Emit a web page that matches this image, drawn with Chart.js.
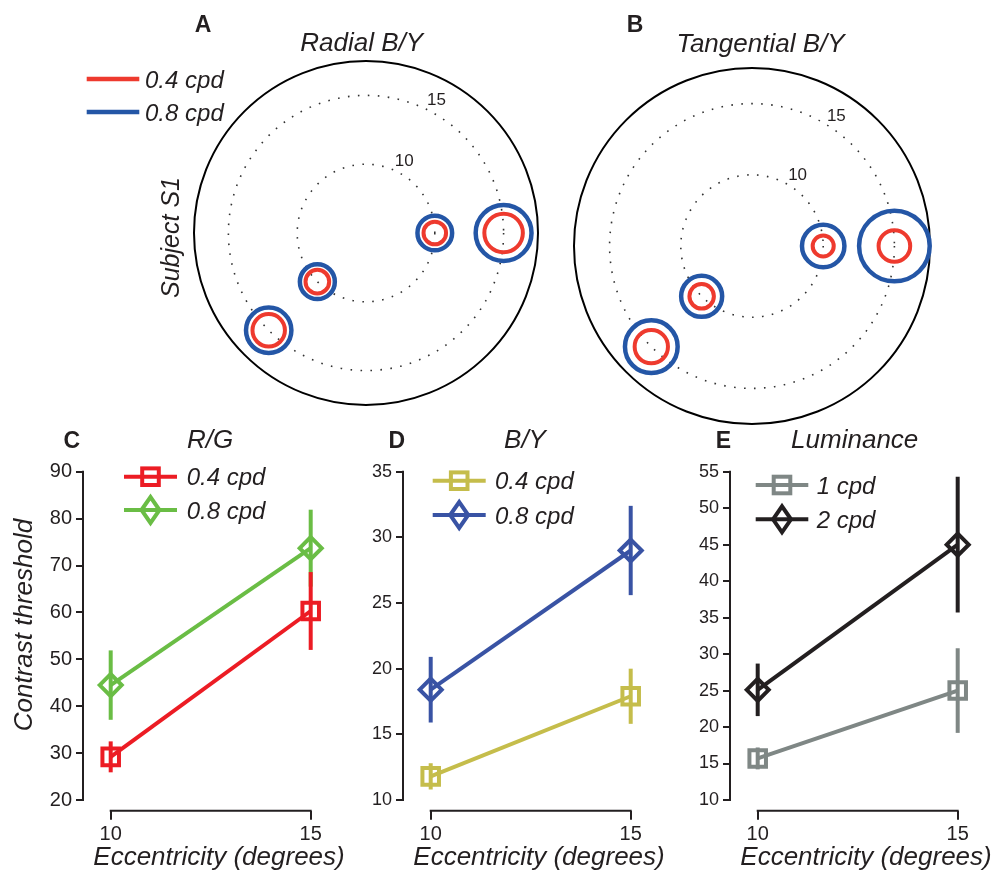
<!DOCTYPE html>
<html>
<head>
<meta charset="utf-8">
<script src="https://cdn.jsdelivr.net/npm/chart.js@4.4.1/dist/chart.umd.min.js"></script>
<style>
  html, body { margin: 0; padding: 0; background: #fff; }
  #fig { position: relative; width: 1000px; height: 871px; overflow: hidden; background: #fff; }
  #fig canvas { position: absolute; }
</style>
</head>
<body>
<div id="fig">
  <canvas id="radial" width="560" height="420" style="left:0;top:0"></canvas>
  <canvas id="tangential" width="440" height="430" style="left:560px;top:0"></canvas>
  <canvas id="rg" width="355" height="451" style="left:0;top:420px"></canvas>
  <canvas id="by" width="355" height="451" style="left:320px;top:420px"></canvas>
  <canvas id="lum" width="355" height="451" style="left:647px;top:420px"></canvas>
</div>
<script>
const FONT = "'Liberation Sans', Arial, Helvetica, sans-serif";
const INK = '#231f20';

// A, B: target locations in the visual field and threshold circle sizes (deg)
const locAngle = [0, 0, 225, 225];
const locEcc = [10, 15, 10, 15];
const ringTicks = [5, 10, 15, 17.5];
const radialLow = [0.82, 1.40, 0.86, 1.18];   // 0.4 cpd
const radialHigh = [1.26, 2.03, 1.27, 1.65];  // 0.8 cpd
const tangLow = [0.74, 1.11, 0.86, 1.17];
const tangHigh = [1.49, 2.48, 1.44, 1.85];

// C, D, E: contrast thresholds vs eccentricity
const ecc = [10, 15];
const rgLow = [29.2, 60.3], rgLowErr = [3.3, 8.3];
const rgHigh = [44.5, 73.7], rgHighErr = [7.4, 8.2];
const byLow = [11.8, 17.9], byLowErr = [1.0, 2.1];
const byHigh = [18.4, 29.0], byHighErr = [2.5, 3.4];
const lumLow = [15.7, 25.0], lumLowErr = [1.5, 5.8];
const lumHigh = [25.1, 45.0], lumHighErr = [3.6, 9.3];
const rgTicks = [20, 30, 40, 50, 60, 70, 80, 90];
const byTicks = [10, 15, 20, 25, 30, 35];
const lumTicks = [10, 15, 20, 25, 30, 35, 40, 45, 50, 55];

const RED = '#ee3a2e', BLUE = '#2456a6';

// free text on a canvas
function textPlugin(items) {
  return {
    id: 'texts',
    afterDraw(chart) {
      const ctx = chart.ctx;
      items.forEach(it => {
        ctx.save();
        ctx.font = (it.style || 'italic') + ' ' + it.size + 'px ' + FONT;
        ctx.fillStyle = INK;
        ctx.textAlign = it.align || 'center';
        ctx.textBaseline = 'alphabetic';
        ctx.translate(it.x, it.y);
        if (it.rot) ctx.rotate(it.rot * Math.PI / 180);
        ctx.fillText(it.t, 0, 0);
        ctx.restore();
      });
    }
  };
}

// legend: short line with marker, then label
function legendPlugin(lg) {
  return {
    id: 'lineLegend',
    afterDraw(chart) {
      const ctx = chart.ctx;
      const items = lg.items || chart.data.datasets.map(d => ({ label: d.label, color: d.borderColor, marker: d.pointStyle }));
      items.forEach((it, i) => {
        const y = lg.y + i * lg.gap;
        ctx.save();
        ctx.strokeStyle = it.color;
        ctx.lineWidth = lg.lw || 4;
        ctx.beginPath();
        ctx.moveTo(lg.x, y);
        ctx.lineTo(lg.x + lg.len, y);
        ctx.stroke();
        const cx = lg.x + lg.len / 2;
        ctx.lineJoin = 'miter';
        if (it.marker === 'rect') {
          ctx.strokeRect(cx - 8.3, y - 8.3, 16.6, 16.6);
        } else if (it.marker === 'rectRot') {
          ctx.beginPath();
          ctx.moveTo(cx - 9, y);
          ctx.lineTo(cx, y - 13);
          ctx.lineTo(cx + 9, y);
          ctx.lineTo(cx, y + 13);
          ctx.closePath();
          ctx.stroke();
        }
        ctx.font = 'italic 24px ' + FONT;
        ctx.fillStyle = INK;
        ctx.textAlign = 'left';
        ctx.textBaseline = 'alphabetic';
        ctx.fillText(it.label, lg.textX, y + 8.5);
        ctx.restore();
      });
    }
  };
}

// ring value labels for the polar panels
function ringLabelPlugin(angleDeg) {
  return {
    id: 'ringLabels',
    afterDraw(chart) {
      const s = chart.scales.r, ctx = chart.ctx;
      const a = angleDeg * Math.PI / 180;
      ctx.save();
      ctx.font = '17px ' + FONT;
      ctx.fillStyle = INK;
      ctx.textAlign = 'center';
      ctx.textBaseline = 'middle';
      [10, 15].forEach(v => {
        const d = s.getDistanceFromCenterForValue(v) + 12.5;
        ctx.fillText(String(v), s.xCenter + d * Math.cos(a), s.yCenter - d * Math.sin(a));
      });
      ctx.restore();
    }
  };
}

const errorBars = {
  id: 'errorBars',
  beforeDatasetDraw(chart, args) {
    const ds = chart.data.datasets[args.index];
    if (!ds.err) return;
    const xs = chart.scales.x, ys = chart.scales.y, ctx = chart.ctx;
    ctx.save();
    ctx.strokeStyle = ds.borderColor;
    ctx.lineWidth = 4;
    ds.data.forEach((p, i) => {
      const x = xs.getPixelForValue(p.x);
      ctx.beginPath();
      ctx.moveTo(x, ys.getPixelForValue(p.y - ds.err[i]));
      ctx.lineTo(x, ys.getPixelForValue(p.y + ds.err[i]));
      ctx.stroke();
    });
    ctx.restore();
  }
};

const axisLines = {
  id: 'axisLines',
  afterDraw(chart) {
    const xs = chart.scales.x, ys = chart.scales.y, ctx = chart.ctx;
    const yt = ys.ticks, xt = xs.ticks;
    const left = chart.chartArea.left, bottom = chart.chartArea.bottom;
    ctx.save();
    ctx.strokeStyle = INK;
    ctx.lineWidth = 2;
    ctx.beginPath();
    ctx.moveTo(left, ys.getPixelForValue(yt[0].value) + 1);
    ctx.lineTo(left, ys.getPixelForValue(yt[yt.length - 1].value) - 1);
    ctx.moveTo(xs.getPixelForValue(xt[0].value) - 1, bottom);
    ctx.lineTo(xs.getPixelForValue(xt[xt.length - 1].value) + 1, bottom);
    ctx.stroke();
    ctx.restore();
  }
};

// polar panels: radar chart on a radial scale starting at 5 deg
const dirLabels = ['90', '45', '0', '315', '270', '225', '180', '135'];
function dirIndex(theta) { return (((90 - theta) / 45) % 8 + 8) % 8; }

function polarSets(low, high) {
  const sets = [];
  [[high, BLUE, 4.5], [low, RED, 4]].forEach(([thr, color, bw]) => {
    [10, 15].forEach(e => {
      const data = new Array(8).fill(null);
      const size = new Array(8).fill(0);
      locEcc.forEach((le, k) => {
        if (le === e) {
          const i = dirIndex(locAngle[k]);
          data[i] = le;
          size[i] = thr[k];
        }
      });
      sets.push({
        data, thr: size,
        borderColor: color, pointBorderColor: color,
        pointBackgroundColor: 'rgba(0,0,0,0)', pointBorderWidth: bw,
        pointStyle: 'circle',
        pointRadius: c => {
          const s = c.chart.scales.r;
          const t = c.dataset.thr ? c.dataset.thr[c.dataIndex] : 0;
          return t ? t * s.drawingArea / (s.max - s.min) : 0;
        },
        showLine: false, fill: false, clip: false
      });
    });
  });
  return sets;
}

function polarPanel(id, low, high, padding, labelAngle, texts, legend) {
  const plugins = [ringLabelPlugin(labelAngle), textPlugin(texts)];
  if (legend) plugins.push(legendPlugin(legend));
  new Chart(document.getElementById(id), {
    type: 'radar',
    data: { labels: dirLabels, datasets: polarSets(low, high) },
    options: {
      responsive: false, animation: false, events: [],
      layout: { padding, autoPadding: false },
      plugins: { legend: { display: false }, tooltip: { enabled: false } },
      scales: {
        r: {
          min: 5, max: 17.5,
          afterBuildTicks: s => { s.ticks = ringTicks.map(v => ({ value: v })); },
          angleLines: { display: false },
          pointLabels: { display: false },
          ticks: { display: false },
          grid: {
            circular: true,
            color: c => (c.tick && c.tick.value === 17.5) ? '#000' : '#333',
            lineWidth: c => (c.tick && c.tick.value === 17.5) ? 2 : 1.6
          },
          border: { dash: c => (c.tick && c.tick.value === 17.5) ? [] : [1.6, 8.4] }
        }
      }
    },
    plugins
  });
}

polarPanel('radial', radialLow, radialHigh, { left: 194, right: 22, top: 61, bottom: 15 }, 62, [
  { t: 'A', x: 203, y: 31.7, size: 23, style: 'bold' },
  { t: 'Radial B/Y', x: 361.7, y: 50.7, size: 26 },
  { t: 'Subject S1', x: 179, y: 237.5, size: 25, rot: -90 }
], {
  x: 86.7, len: 52.6, y: 79, gap: 33, lw: 4.5, textX: 145,
  items: [{ label: '0.4 cpd', color: RED }, { label: '0.8 cpd', color: BLUE }]
});

polarPanel('tangential', tangLow, tangHigh, { left: 14, right: 70, top: 68, bottom: 6 }, 57, [
  { t: 'B', x: 75, y: 31.7, size: 23, style: 'bold' },
  { t: 'Tangential B/Y', x: 200.5, y: 51.5, size: 26 }
]);

// lower panels: thresholds vs eccentricity
function noPad(s) { s.paddingLeft = 0; s.paddingRight = 0; s.paddingTop = 0; s.paddingBottom = 0; }

function linePanel(id, ticks, yFont, series, texts, legend) {
  const range = ticks[ticks.length - 1] - ticks[0];
  new Chart(document.getElementById(id), {
    type: 'line',
    data: {
      datasets: series.map(s => ({
        label: s.label,
        data: ecc.map((x, i) => ({ x, y: s.y[i] })),
        err: s.err,
        borderColor: s.color, borderWidth: 4,
        pointStyle: s.marker, pointRadius: s.marker === 'rect' ? 11.7 : 11,
        pointBorderColor: s.color, pointBackgroundColor: 'rgba(0,0,0,0)', pointBorderWidth: 4,
        clip: false, tension: 0, fill: false
      }))
    },
    options: {
      responsive: false, animation: false, events: [],
      layout: { padding: { top: 51.7, left: 0, right: 0, bottom: 0 }, autoPadding: false },
      plugins: { legend: { display: false }, tooltip: { enabled: false } },
      scales: {
        x: {
          type: 'linear', min: 9.3075, max: 16.1075,
          afterBuildTicks: s => { s.ticks = ecc.map(v => ({ value: v })); },
          afterFit: s => { s.height = 60.3; noPad(s); },
          grid: { display: true, drawOnChartArea: false, drawTicks: true, tickLength: 9, lineWidth: 2, color: INK },
          border: { display: false },
          ticks: { font: { family: FONT, size: 20 }, color: INK, padding: 3, maxRotation: 0, autoSkip: false },
          title: {
            display: true, text: 'Eccentricity (degrees)', color: INK,
            font: { family: FONT, size: 26, style: 'italic', lineHeight: 1 },
            padding: { top: 0, bottom: 0 }
          }
        },
        y: {
          type: 'linear', min: ticks[0] - range * 10.7 / 328.3, max: ticks[ticks.length - 1],
          afterBuildTicks: s => { s.ticks = ticks.map(v => ({ value: v })); },
          afterFit: s => { s.width = 83; noPad(s); },
          grid: { display: true, drawOnChartArea: false, drawTicks: true, tickLength: 7, lineWidth: 2, color: INK },
          border: { display: false },
          ticks: { font: { family: FONT, size: yFont }, color: INK, padding: 4, autoSkip: false }
        }
      }
    },
    plugins: [errorBars, axisLines, legendPlugin(legend), textPlugin(texts)]
  });
}

linePanel('rg', rgTicks, 20, [
  { label: '0.4 cpd', y: rgLow, err: rgLowErr, color: '#ec1c24', marker: 'rect' },
  { label: '0.8 cpd', y: rgHigh, err: rgHighErr, color: '#6abd45', marker: 'rectRot' }
], [
  { t: 'C', x: 71.7, y: 28.3, size: 23, style: 'bold' },
  { t: 'R/G', x: 210, y: 28.3, size: 26 },
  { t: 'Contrast threshold', x: 32, y: 205, size: 26, rot: -90 }
], { x: 124, len: 53, y: 56.7, gap: 33.3, textX: 186.7 });

linePanel('by', byTicks, 18, [
  { label: '0.4 cpd', y: byLow, err: byLowErr, color: '#c5bd4b', marker: 'rect' },
  { label: '0.8 cpd', y: byHigh, err: byHighErr, color: '#3953a4', marker: 'rectRot' }
], [
  { t: 'D', x: 76.7, y: 28.3, size: 23, style: 'bold' },
  { t: 'B/Y', x: 205, y: 28.3, size: 26 }
], { x: 112.7, len: 53, y: 60.7, gap: 34.3, textX: 175 });

linePanel('lum', lumTicks, 18, [
  { label: '1 cpd', y: lumLow, err: lumLowErr, color: '#7f8785', marker: 'rect' },
  { label: '2 cpd', y: lumHigh, err: lumHighErr, color: '#231f20', marker: 'rectRot' }
], [
  { t: 'E', x: 76.3, y: 28.3, size: 23, style: 'bold' },
  { t: 'Luminance', x: 207.7, y: 28.3, size: 26 }
], { x: 108.7, len: 52.6, y: 65, gap: 34.3, textX: 169.7 });
</script>
</body>
</html>
